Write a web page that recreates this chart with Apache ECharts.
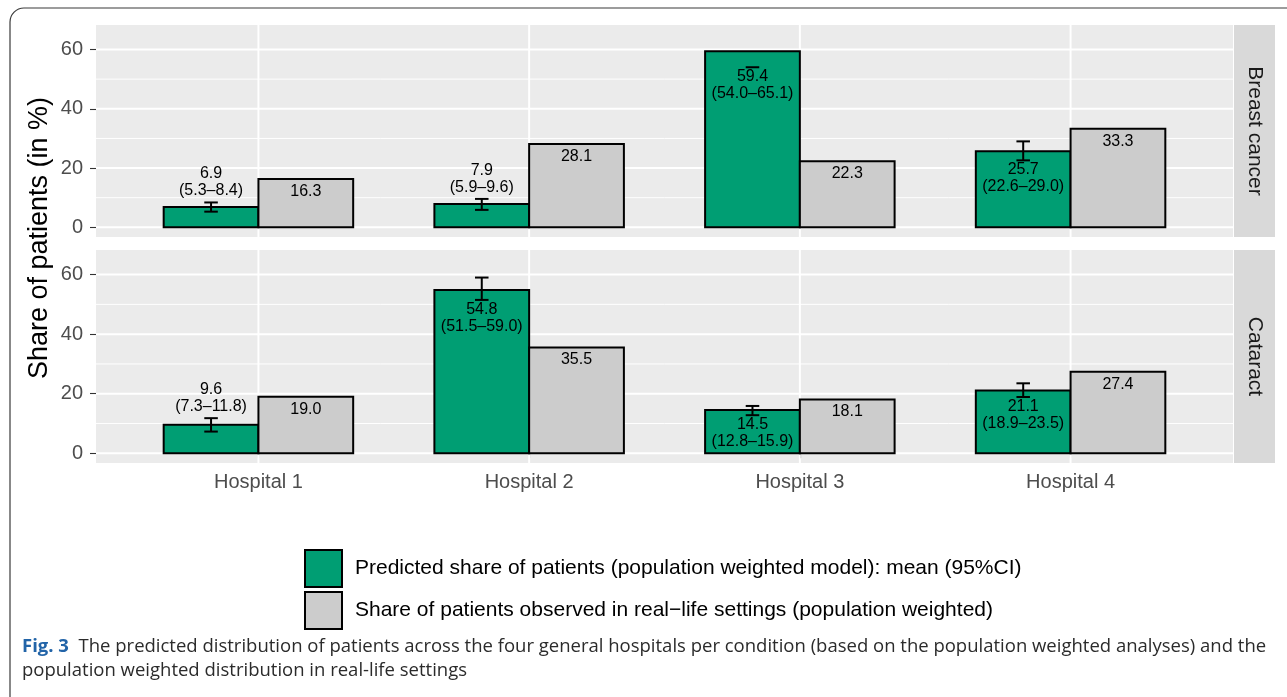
<!DOCTYPE html>
<html>
<head>
<meta charset="utf-8">
<script src="https://cdn.jsdelivr.net/npm/echarts@6/dist/echarts.min.js"></script>
<style>
  html, body { margin: 0; padding: 0; background: #fff; }
  #chart { width: 1287px; height: 697px; }
</style>
</head>
<body>
<div id="chart"></div>
<script>
// ---- data ----
const hospitals = ['Hospital 1', 'Hospital 2', 'Hospital 3', 'Hospital 4'];
const conditions = ['Breast cancer', 'Cataract'];

const breastPredicted = [6.9, 7.9, 59.4, 25.7];
const breastLower     = [5.3, 5.9, 54.0, 22.6];
const breastUpper     = [8.4, 9.6, 65.1, 29.0];
const breastObserved  = [16.3, 28.1, 22.3, 33.3];

const cataractPredicted = [9.6, 54.8, 14.5, 21.1];
const cataractLower     = [7.3, 51.5, 12.8, 18.9];
const cataractUpper     = [11.8, 59.0, 15.9, 23.5];
const cataractObserved  = [19.0, 35.5, 18.1, 27.4];

const yTicks = [0, 20, 40, 60];
const yMinorLines = [10, 30, 50];
const yLimit = 65; // scale limit; values beyond it are censored

const predictedName = 'Predicted share of patients (population weighted model): mean (95%CI)';
const observedName = 'Share of patients observed in real\u2212life settings (population weighted)';

// ---- style ----
const GREEN = '#009E73';
const GREY = '#CCCCCC';
const FONT = '"Liberation Sans", Arial, Helvetica, sans-serif';
const CAPTION_FONT = '"Open Sans", sans-serif';
const BAR_HALF = 0.35;   // width of one dodged bar in category units
const Y_MIN = -yLimit * 0.05, Y_MAX = yLimit * 1.05;

const panels = [
  { pred: breastPredicted, lo: breastLower, hi: breastUpper, obs: breastObserved, top: 25, height: 212 },
  { pred: cataractPredicted, lo: cataractLower, hi: cataractUpper, obs: cataractObserved, top: 250, height: 213 }
];
const PANEL_LEFT = 96, PANEL_RIGHT = 54;

const fmt = v => v.toFixed(1);

const grids = [], xAxes = [], yAxes = [], series = [];

panels.forEach((p, i) => {
  const isBottom = i === panels.length - 1;
  grids.push({
    left: PANEL_LEFT, right: PANEL_RIGHT, top: p.top, height: p.height,
    show: true, backgroundColor: '#EBEBEB', borderWidth: 0, containLabel: false
  });
  xAxes.push({
    type: 'value', gridIndex: i, min: 0.4, max: 4.6,
    axisLine: { show: false }, splitLine: { show: false },
    axisTick: { show: isBottom, customValues: [1, 2, 3, 4], length: 5, lineStyle: { color: '#333', width: 1.1 } },
    axisLabel: {
      show: isBottom, customValues: [1, 2, 3, 4], margin: 9,
      formatter: v => hospitals[Math.round(v) - 1] || '',
      color: '#4D4D4D', fontSize: 20, fontFamily: FONT
    }
  });
  yAxes.push({
    type: 'value', gridIndex: i, min: Y_MIN, max: Y_MAX,
    axisLine: { show: false }, splitLine: { show: false },
    axisTick: { show: true, customValues: yTicks, length: 6, lineStyle: { color: '#333', width: 1.1 } },
    axisLabel: { customValues: yTicks, margin: 13, color: '#4D4D4D', fontSize: 20, fontFamily: FONT }
  });

  // panel grid lines (white major/minor)
  const lineData = []
    .concat(yTicks.map(v => [0, v, 2]))
    .concat(yMinorLines.map(v => [0, v, 1]))
    .concat([1, 2, 3, 4].map(v => [1, v, 2]));
  series.push({
    type: 'custom', xAxisIndex: i, yAxisIndex: i, silent: true, z: 1,
    data: lineData,
    renderItem(params, api) {
      const cs = params.coordSys;
      const kind = api.value(0), v = api.value(1), w = api.value(2);
      let shape;
      if (kind === 0) {
        const y = api.coord([1, v])[1];
        shape = { x1: cs.x, y1: y, x2: cs.x + cs.width, y2: y };
      } else {
        const x = api.coord([v, 0])[0];
        shape = { x1: x, y1: cs.y, x2: x, y2: cs.y + cs.height };
      }
      return { type: 'line', shape, style: { stroke: '#FFFFFF', lineWidth: w === 2 ? 2 : 1 } };
    }
  });

  // bars
  const barSeries = (name, values, color, side) => ({
    type: 'custom', name, xAxisIndex: i, yAxisIndex: i, z: 3,
    itemStyle: { color },
    data: values.map((v, k) => [k + 1, v]),
    renderItem(params, api) {
      const x = api.value(0), v = api.value(1);
      const x0 = side < 0 ? x - BAR_HALF : x, x1 = side < 0 ? x : x + BAR_HALF;
      const a = api.coord([x0, v]), b = api.coord([x1, 0]);
      return {
        type: 'rect',
        shape: { x: a[0], y: a[1], width: b[0] - a[0], height: b[1] - a[1] },
        style: { fill: color, stroke: '#000', lineWidth: 2 }
      };
    }
  });
  series.push(barSeries(predictedName, p.pred, GREEN, -1));
  series.push(barSeries(observedName, p.obs, GREY, 1));

  // 95% CI error bars
  series.push({
    type: 'custom', xAxisIndex: i, yAxisIndex: i, silent: true, z: 4,
    data: p.pred.map((v, k) => [k + 1 - BAR_HALF / 2, p.lo[k], p.hi[k]]),
    renderItem(params, api) {
      const x = api.value(0), lo = api.value(1), hi = api.value(2);
      const capHalf = 0.025;
      const pLo = api.coord([x, lo]);
      const capL = api.coord([x - capHalf, lo])[0], capR = api.coord([x + capHalf, lo])[0];
      const style = { stroke: '#000', lineWidth: 2 };
      const children = [{ type: 'line', shape: { x1: capL, y1: pLo[1], x2: capR, y2: pLo[1] }, style }];
      if (hi <= yLimit) {
        const pHi = api.coord([x, hi]);
        children.push({ type: 'line', shape: { x1: pLo[0], y1: pLo[1], x2: pHi[0], y2: pHi[1] }, style });
        children.push({ type: 'line', shape: { x1: capL, y1: pHi[1], x2: capR, y2: pHi[1] }, style });
      }
      return { type: 'group', children };
    }
  });

  // value labels for predicted bars: mean and CI
  series.push({
    type: 'custom', xAxisIndex: i, yAxisIndex: i, silent: true, z: 5,
    data: p.pred.map((v, k) => [k + 1 - BAR_HALF / 2, v, p.lo[k], p.hi[k]]),
    renderItem(params, api) {
      const x = api.value(0), v = api.value(1), lo = api.value(2), hi = api.value(3);
      const above = v < 12;
      const pt = above ? api.coord([x, hi]) : api.coord([x, lo]);
      return {
        type: 'text',
        style: {
          x: pt[0], y: above ? pt[1] - 3 : pt[1] + 1,
          text: fmt(v) + '\n(' + fmt(lo) + '\u2013' + fmt(hi) + ')',
          align: 'center', verticalAlign: above ? 'bottom' : 'top',
          fill: '#000', fontSize: 16, lineHeight: 17, fontFamily: FONT
        }
      };
    }
  });

  // value labels for observed bars
  series.push({
    type: 'custom', xAxisIndex: i, yAxisIndex: i, silent: true, z: 5,
    data: p.obs.map((v, k) => [k + 1 + BAR_HALF / 2, v]),
    renderItem(params, api) {
      const pt = api.coord([api.value(0), api.value(1)]);
      return {
        type: 'text',
        style: {
          x: pt[0], y: pt[1] + 4, text: fmt(api.value(1)),
          align: 'center', verticalAlign: 'top',
          fill: '#000', fontSize: 16, lineHeight: 17, fontFamily: FONT
        }
      };
    }
  });
});

// facet strips, axis title, caption and frame
const graphics = [
  { type: 'rect', shape: { x: 10, y: 8, width: 1320, height: 710, r: 14 },
    style: { fill: 'none', stroke: '#3A3A3A', lineWidth: 1.2 }, z: 0 },
  { type: 'text', x: 40, y: 238, rotation: Math.PI / 2,
    style: { text: 'Share of patients (in %)', fill: '#000', fontSize: 27, fontFamily: FONT,
             align: 'center', verticalAlign: 'middle' } },
  { type: 'text', x: 22, y: 647,
    style: {
      text: '{b|Fig. 3}  The predicted distribution of patients across the four general hospitals per condition (based on the population weighted analyses) and the',
      fill: '#2B2B2B', fontSize: 18.5, fontFamily: CAPTION_FONT, verticalAlign: 'middle',
      rich: { b: { fontWeight: 'bold', fill: '#2264A8', fontSize: 18.5, fontFamily: CAPTION_FONT } }
    } },
  { type: 'text', x: 22, y: 671,
    style: { text: 'population weighted distribution in real-life settings',
             fill: '#2B2B2B', fontSize: 18.5, fontFamily: CAPTION_FONT, verticalAlign: 'middle' } }
];
panels.forEach((p, i) => {
  graphics.push({ type: 'rect', shape: { x: 1234, y: p.top, width: 41, height: p.height },
                  style: { fill: '#D9D9D9' } });
  graphics.push({ type: 'text', x: 1254.5, y: p.top + p.height / 2, rotation: -Math.PI / 2,
                  style: { text: conditions[i], fill: '#1A1A1A', fontSize: 21, fontFamily: FONT,
                           align: 'center', verticalAlign: 'middle' } });
});

const chart = echarts.init(document.getElementById('chart'), null, { renderer: 'canvas' });
chart.setOption({
  animation: false,
  backgroundColor: '#FFFFFF',
  grid: grids,
  xAxis: xAxes,
  yAxis: yAxes,
  legend: {
    left: 304, top: 549, orient: 'vertical',
    itemWidth: 37, itemHeight: 37, itemGap: 3, padding: 0,
    selectedMode: false,
    textStyle: { fontSize: 21, fontFamily: FONT, color: '#000', padding: [0, 0, 0, 8] },
    data: [
      { name: predictedName, icon: 'rect', itemStyle: { color: GREEN, borderColor: '#000', borderWidth: 2 } },
      { name: observedName, icon: 'rect', itemStyle: { color: GREY, borderColor: '#000', borderWidth: 2 } }
    ]
  },
  graphic: graphics,
  series
});
</script>
</body>
</html>
